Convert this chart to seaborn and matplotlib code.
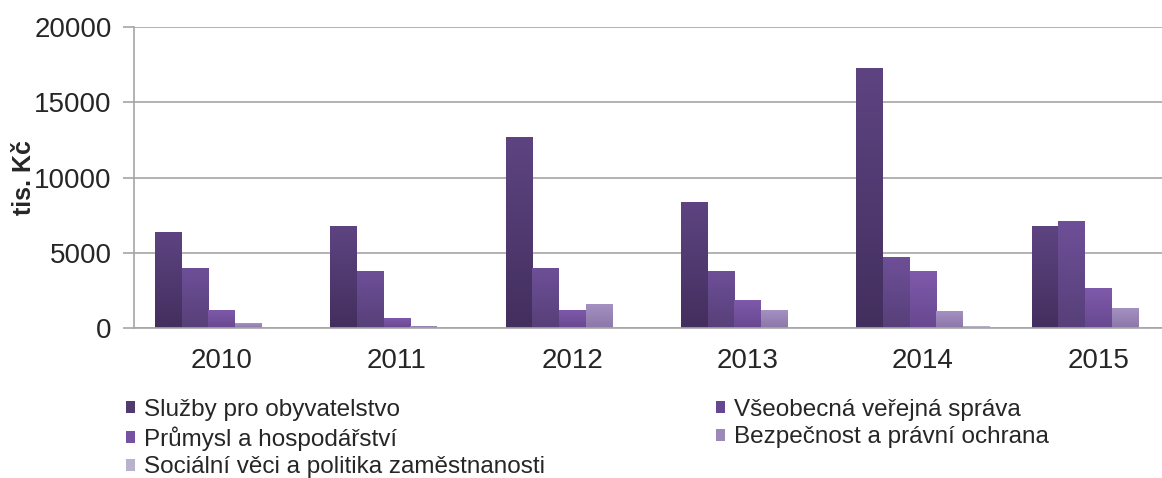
import numpy as np
import pandas as pd
import matplotlib
matplotlib.use("Agg")
import matplotlib.pyplot as plt
import seaborn as sns
from matplotlib.colors import LinearSegmentedColormap, to_rgb
from matplotlib.patches import Rectangle

years = ["2010", "2011", "2012", "2013", "2014", "2015"]
series = ["Služby pro obyvatelstvo", "Všeobecná veřejná správa",
          "Průmysl a hospodářství", "Bezpečnost a právní ochrana",
          "Sociální věci a politika zaměstnanosti"]
sluzby = [6400, 6760, 12690, 8350, 17280, 6760]
sprava = [4010, 3830, 4010, 3830, 4700, 7090]
prumysl = [1200, 690, 1200, 1900, 3830, 2640]
bezpecnost = [330, 180, 1620, 1200, 1130, 1375]
socialni = [0, 0, 0, 0, 180, 90]
y_ticks = [0, 5000, 10000, 15000, 20000]
y_label = "tis. Kč"

colors_mid = ["#503a6e", "#654890", "#7653a1", "#9c88b9", "#bab2cc"]
colors_top = ["#5d4481", "#6e4f98", "#7f5aab", "#a592c2", "#c4bcd6"]
colors_bot = ["#432f5e", "#574079", "#684890", "#8c78a8", "#a9a0bd"]

values = [sluzby, sprava, prumysl, bezpecnost, socialni]
rows = []
for s, vals in zip(series, values):
    for y, v in zip(years, vals):
        rows.append({"year": y, "series": s, "value": v})
df = pd.DataFrame(rows)

sns.set_theme(style="white")
plt.rcParams["font.family"] = ["Liberation Sans", "DejaVu Sans"]

W, H = 1162, 478
fig = plt.figure(figsize=(W / 100, H / 100), dpi=100)
ax = fig.add_axes([134 / W, (H - 328.3) / H, 1052 / W, 301.6 / H])

sns.barplot(data=df, x="year", y="value", hue="series", hue_order=series,
            palette=colors_mid, width=0.762, gap=0, ax=ax, saturation=1,
            edgecolor="none", linewidth=0)

if ax.get_legend() is not None:
    ax.get_legend().remove()

# gradient fill
for i, cont in enumerate(ax.containers):
    cmap = LinearSegmentedColormap.from_list(
        f"g{i}", [to_rgb(colors_bot[i]), to_rgb(colors_top[i])])
    for p in cont.patches:
        x0, y0 = p.get_x(), p.get_y()
        w, h = p.get_width(), p.get_height()
        if h <= 0:
            continue
        grad = np.linspace(0, 1, 64).reshape(-1, 1)
        im = ax.imshow(grad, cmap=cmap, origin="lower", aspect="auto",
                       extent=[x0, x0 + w, y0, y0 + h], zorder=2.5,
                       interpolation="bilinear")
        im.set_clip_path(p)

ax.set_xlim(-0.5, 5.5)
ax.set_ylim(0, 20000)
ax.set_yticks(y_ticks)
ax.set_yticklabels([str(t) for t in y_ticks])
ax.yaxis.grid(True, color="#a6a6a6", linewidth=1.2)
ax.set_axisbelow(True)
for s in ["top", "right"]:
    ax.spines[s].set_visible(False)
ax.spines["left"].set_color("#a6a6a6")
ax.spines["bottom"].set_color("#a6a6a6")
ax.spines["left"].set_linewidth(1.2)
ax.spines["bottom"].set_linewidth(1.2)
ax.tick_params(axis="y", length=8, width=1.2, color="#a6a6a6", labelsize=20,
               pad=8, left=True, direction="out")
ax.tick_params(axis="x", length=0, labelsize=20, pad=14)
ax.set_xlabel("")
ax.set_ylabel(y_label, fontsize=18, fontweight="bold")
ax.yaxis.set_label_coords(-0.0935, 0.5)

def mk(c):
    return Rectangle((0, 0), 1, 1, facecolor=c, edgecolor="none")

order = [0, 2, 4, 1, 3]
leg = fig.legend([mk(colors_mid[i]) for i in order], [series[i] for i in order],
                 ncol=2, loc="upper left", bbox_to_anchor=(126 / W, 1 - 399 / H),
                 frameon=False, fontsize=17.5, handlelength=0.38,
                 handleheight=0.38, handletextpad=0.35, labelspacing=0.22,
                 columnspacing=7.05, borderaxespad=0, borderpad=0)

fig.savefig("out.png", dpi=100)
